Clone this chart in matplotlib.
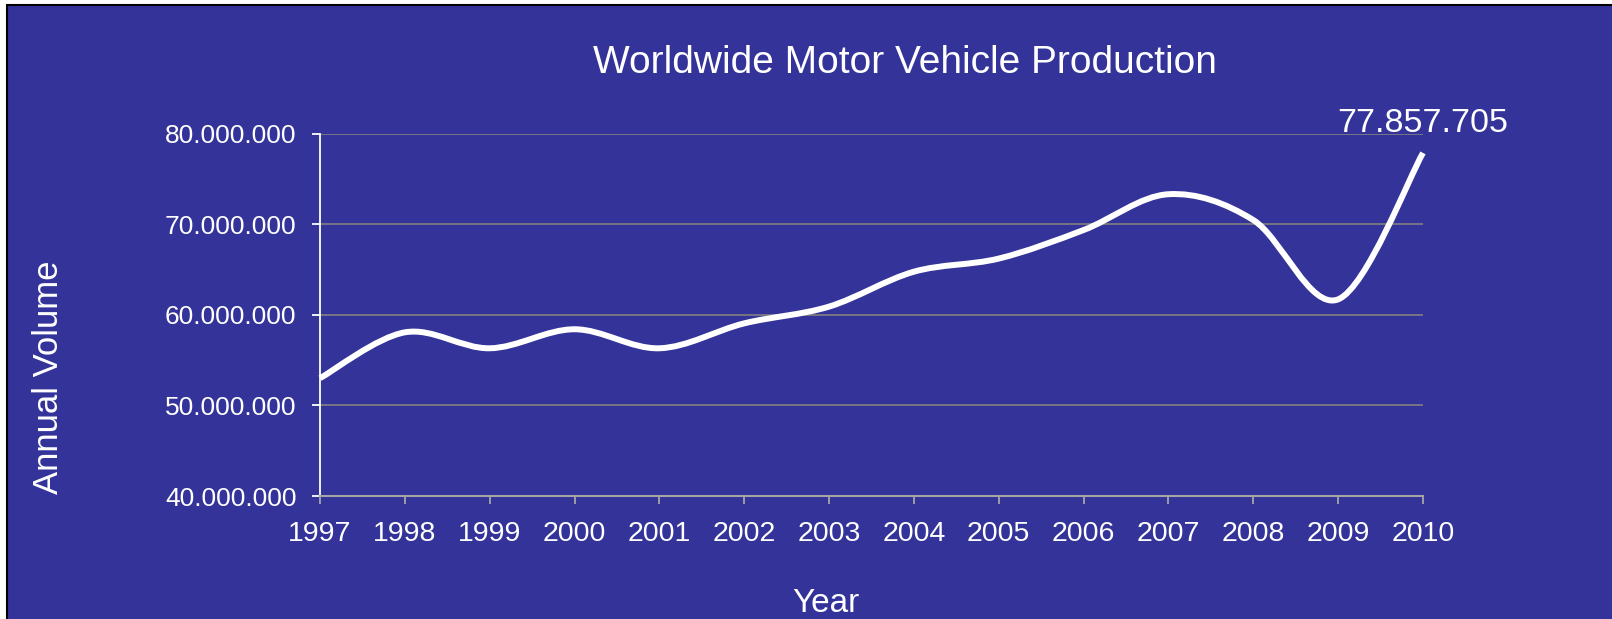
import matplotlib.pyplot as plt
from matplotlib.path import Path
from matplotlib.patches import PathPatch, Rectangle
from matplotlib.ticker import FuncFormatter, MultipleLocator

plt.rcParams['font.family'] = ['Liberation Sans', 'DejaVu Sans']

# Data
years = [1997, 1998, 1999, 2000, 2001, 2002, 2003, 2004, 2005, 2006, 2007, 2008, 2009, 2010]
volume = [53.0e6, 58.06e6, 56.3e6, 58.4e6, 56.3e6, 59.05e6, 60.9e6, 64.75e6, 66.2e6, 69.35e6,
          73.3e6, 70.45e6, 61.7e6, 77857705]
last_label = '77.857.705'

bg = '#333399'

fig = plt.figure(figsize=(16.12, 6.19), dpi=100)
fig.patch.set_facecolor('white')
# slide background with thin black edge on the left/top
fig.patches.append(Rectangle((7.5 / 1612, -0.1), 1.2, 1.1 - 4.5 / 619, transform=fig.transFigure,
                             facecolor=bg, edgecolor='black', linewidth=1.5, zorder=-10))

ax = fig.add_axes([320 / 1612, 1 - 496 / 619, 1103 / 1612, 362.5 / 619])
ax.set_facecolor(bg)

# smoothed line (Excel style bezier through the points)
n = len(years)
verts = [(years[0], volume[0])]
codes = [Path.MOVETO]
for i in range(n - 1):
    p0 = (years[max(i - 1, 0)], volume[max(i - 1, 0)])
    p1 = (years[i], volume[i])
    p2 = (years[i + 1], volume[i + 1])
    p3 = (years[min(i + 2, n - 1)], volume[min(i + 2, n - 1)])
    c1 = (p1[0] + (p2[0] - p0[0]) / 6, p1[1] + (p2[1] - p0[1]) / 6)
    c2 = (p2[0] - (p3[0] - p1[0]) / 6, p2[1] - (p3[1] - p1[1]) / 6)
    verts += [c1, c2, p2]
    codes += [Path.CURVE4] * 3
ax.add_patch(PathPatch(Path(verts, codes), facecolor='none', edgecolor='white',
                       linewidth=4.3, capstyle='butt', joinstyle='round', zorder=5, clip_on=False))

ax.set_xlim(1997, 2010)
ax.set_ylim(40e6, 80e6)
ax.set_xticks(years)
ax.yaxis.set_major_locator(MultipleLocator(10e6))
ax.yaxis.set_major_formatter(FuncFormatter(lambda v, p: f'{v:,.0f}'.replace(',', '.')))
ax.grid(axis='y', color='#808080', linewidth=1.2)
ax.set_axisbelow(True)

for s in ['top', 'right']:
    ax.spines[s].set_visible(False)
ax.spines['left'].set_color('white')
ax.spines['left'].set_linewidth(1.3)
ax.spines['bottom'].set_color('#a6a6a6')
ax.spines['bottom'].set_linewidth(1.5)
ax.tick_params(axis='y', colors='white', length=6, width=1.3, pad=11, labelsize=19)
ax.tick_params(axis='x', colors='#a6a6a6', labelcolor='white', length=6, width=1.3, pad=12, labelsize=20.5)

ax.annotate(last_label, xy=(years[-1], volume[-1]), xytext=(0, 21), textcoords='offset pixels',
            ha='center', va='baseline', color='white', fontsize=24.5)

fig.text(905 / 1612, 1 - 73 / 619, 'Worldwide Motor Vehicle Production', ha='center', va='baseline',
         color='white', fontsize=28)
fig.text(826 / 1612, 1 - 612 / 619, 'Year', ha='center', va='baseline', color='white', fontsize=24)
fig.text(48.5 / 1612, 1 - 377 / 619, 'Annual Volume', ha='center', va='center', rotation=90,
         color='white', fontsize=25)

fig.savefig('out.png', dpi=100, facecolor=fig.get_facecolor())
